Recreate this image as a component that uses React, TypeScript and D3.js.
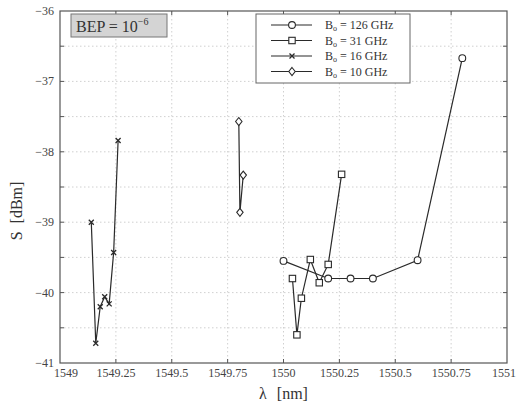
import { useMemo } from 'react'
import { scaleLinear, line } from 'd3'

const W = 517
const H = 405
const M = { left: 60, right: 10, top: 11, bottom: 42 }

const X_TICKS = [1549, 1549.25, 1549.5, 1549.75, 1550, 1550.25, 1550.5, 1550.75, 1551]
const X_TICK_LABELS = ['1549', '1549.25', '1549.5', '1549.75', '1550', '1550.25', '1550.5', '1550.75', '1551']
const Y_GRID = [-36.5, -37, -37.5, -38, -38.5, -39, -39.5, -40, -40.5]
const Y_TICKS = [-36, -37, -38, -39, -40, -41]

// B_o = 126 GHz (circles)
const L126 = [1550.0, 1550.2, 1550.3, 1550.4, 1550.6, 1550.8]
const S126 = [-39.55, -39.8, -39.8, -39.8, -39.54, -36.67]
// B_o = 31 GHz (squares)
const L31 = [1550.04, 1550.06, 1550.08, 1550.12, 1550.16, 1550.2, 1550.26]
const S31 = [-39.8, -40.6, -40.08, -39.53, -39.86, -39.6, -38.32]
// B_o = 16 GHz (crosses)
const L16 = [1549.14, 1549.16, 1549.18, 1549.2, 1549.22, 1549.24, 1549.26]
const S16 = [-39.0, -40.72, -40.2, -40.06, -40.16, -39.43, -37.84]
// B_o = 10 GHz (diamonds)
const L10 = [1549.8, 1549.805, 1549.82]
const S10 = [-37.57, -38.86, -38.33]

const LEGEND = ['126', '31', '16', '10']

type Marker = 'circle' | 'square' | 'cross' | 'diamond'

const INK = '#2a2a2a'
const FONT = '"Liberation Serif", "DejaVu Serif", serif'

function MarkerShape({ kind, x, y }: { kind: Marker; x: number; y: number }) {
  if (kind === 'circle') return <circle cx={x} cy={y} r={3.4} fill="white" stroke={INK} strokeWidth={1.1} />
  if (kind === 'square')
    return <rect x={x - 3.2} y={y - 3.2} width={6.4} height={6.4} fill="white" stroke={INK} strokeWidth={1.1} />
  if (kind === 'cross')
    return (
      <path
        d={`M${x - 2.5},${y - 2.5}L${x + 2.5},${y + 2.5}M${x - 2.5},${y + 2.5}L${x + 2.5},${y - 2.5}`}
        stroke={INK}
        strokeWidth={1.3}
      />
    )
  return (
    <path
      d={`M${x},${y - 4}L${x + 3.2},${y}L${x},${y + 4}L${x - 3.2},${y}Z`}
      fill="white"
      stroke={INK}
      strokeWidth={1.1}
    />
  )
}

export default function App() {
  const x = useMemo(() => scaleLinear().domain([1549, 1551]).range([M.left, W - M.right]), [])
  const y = useMemo(() => scaleLinear().domain([-41, -36]).range([H - M.bottom, M.top]), [])

  const series: { xs: number[]; ys: number[]; m: Marker }[] = [
    { xs: L126, ys: S126, m: 'circle' },
    { xs: L31, ys: S31, m: 'square' },
    { xs: L16, ys: S16, m: 'cross' },
    { xs: L10, ys: S10, m: 'diamond' },
  ]
  const gen = line<[number, number]>()
    .x((d) => x(d[0]))
    .y((d) => y(d[1]))

  const x0 = M.left
  const x1 = W - M.right
  const y0 = M.top
  const y1 = H - M.bottom
  const markers: Marker[] = ['circle', 'square', 'cross', 'diamond']

  return (
    <div style={{ position: 'absolute', left: 0, top: 0 }}>
      <svg width={W} height={H} style={{ display: 'block', background: 'white' }} fontFamily={FONT}>
        {/* grid */}
        {X_TICKS.slice(1, -1).map((t) => (
          <line key={'gx' + t} x1={x(t)} x2={x(t)} y1={y0} y2={y1} stroke="#c4c4c4" strokeWidth={0.8} strokeDasharray="1.5,2.5" />
        ))}
        {Y_GRID.map((t) => (
          <line key={'gy' + t} x1={x0} x2={x1} y1={y(t)} y2={y(t)} stroke="#c4c4c4" strokeWidth={0.8} strokeDasharray="1.5,2.5" />
        ))}
        {/* inner ticks */}
        {X_TICKS.slice(1, -1).map((t) => (
          <g key={'tx' + t} stroke="#555" strokeWidth={1}>
            <line x1={x(t)} x2={x(t)} y1={y1} y2={y1 - 4} />
            <line x1={x(t)} x2={x(t)} y1={y0} y2={y0 + 4} />
          </g>
        ))}
        {Y_GRID.map((t) => (
          <g key={'ty' + t} stroke="#555" strokeWidth={1}>
            <line x1={x0} x2={x0 + 4} y1={y(t)} y2={y(t)} />
            <line x1={x1} x2={x1 - 4} y1={y(t)} y2={y(t)} />
          </g>
        ))}
        <rect x={x0} y={y0} width={x1 - x0} height={y1 - y0} fill="none" stroke="#555" strokeWidth={1.2} />

        {/* tick labels */}
        {X_TICKS.map((t, i) => {
          const last = i === X_TICKS.length - 1
          return (
            <text
              key={'lx' + t}
              x={last ? W - 1 : x(t) + (i === 0 ? 6 : 0)}
              y={y1 + 14}
              textAnchor={last ? 'end' : 'middle'}
              fontSize={12}
              fill="#444"
            >
              {X_TICK_LABELS[i]}
            </text>
          )
        })}
        {Y_TICKS.map((t) => (
          <text key={'ly' + t} x={54} y={y(t) + 4} textAnchor="end" fontSize={12} fill="#444">
            {'\u2212' + Math.abs(t)}
          </text>
        ))}

        {/* axis titles */}
        <text x={(x0 + x1) / 2} y={399} textAnchor="middle" fontSize={16} fill="#333">
          λ<tspan dx={10}>[nm]</tspan>
        </text>
        <text transform={`translate(22,${(y0 + y1) / 2 + 24}) rotate(-90)`} textAnchor="middle" fontSize={16} fill="#333">
          S<tspan dx={8}>[dBm]</tspan>
        </text>

        {/* series */}
        {series.map((s, si) => {
          const pts = s.xs.map((v, i) => [v, s.ys[i]] as [number, number])
          return (
            <g key={'s' + si}>
              <path d={gen(pts) ?? ''} fill="none" stroke={INK} strokeWidth={1.2} />
              {pts.map((p, i) => (
                <MarkerShape key={i} kind={s.m} x={x(p[0])} y={y(p[1])} />
              ))}
            </g>
          )
        })}

        {/* BEP box */}
        <rect x={71} y={14} width={96} height={23} fill="#d4d4d4" stroke="#777" strokeWidth={1} />
        <text x={76} y={32} fontSize={16} fill="#333">
          BEP = 10<tspan dy={-7} fontSize={10}>−6</tspan>
        </text>

        {/* legend */}
        <rect x={256} y={14} width={154} height={69} fill="white" stroke="#666" strokeWidth={1} />
        {LEGEND.map((b, i) => {
          const ly = 25 + i * 15.5
          return (
            <g key={'lg' + b}>
              <line x1={271} x2={312} y1={ly} y2={ly} stroke={INK} strokeWidth={1.2} />
              <MarkerShape kind={markers[i]} x={292} y={ly} />
              <text x={325} y={ly + 4} fontSize={12} fill="#333">
                B<tspan fontSize={8} dy={2}>o</tspan>
                <tspan dy={-2}>{` = ${b} GHz`}</tspan>
              </text>
            </g>
          )
        })}
      </svg>
    </div>
  )
}
